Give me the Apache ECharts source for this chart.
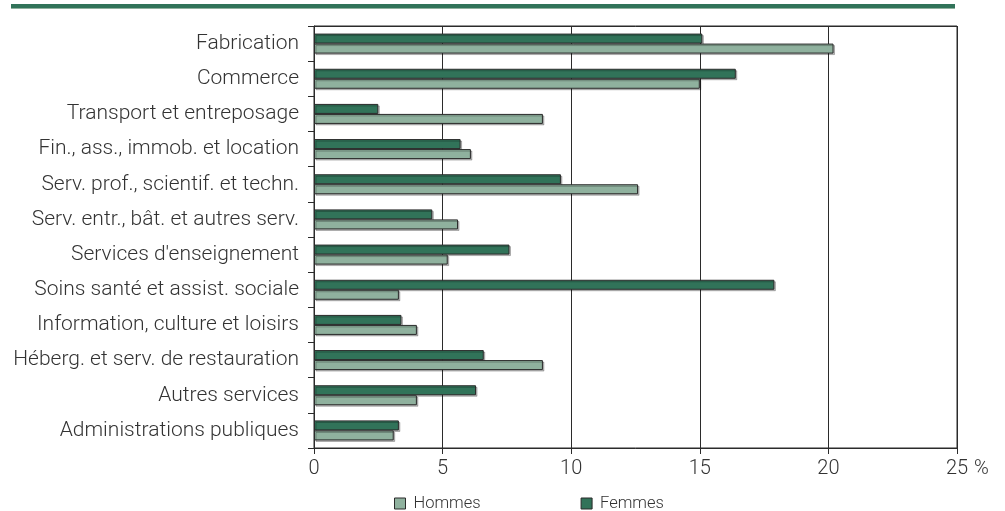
<!DOCTYPE html>
<html>
<head>
<meta charset="utf-8">
<script src="https://cdn.jsdelivr.net/npm/echarts@6/dist/echarts.min.js"></script>
<style>
  html, body { margin: 0; padding: 0; background: #fff; }
  #chart { width: 1005px; height: 511px; }
</style>
</head>
<body>
<div id="chart"></div>
<script>
// Industry groups, top to bottom
const categories = [
  'Fabrication',
  'Commerce',
  'Transport et entreposage',
  'Fin., ass., immob. et location',
  'Serv. prof., scientif. et techn.',
  'Serv. entr., bât. et autres serv.',
  "Services d'enseignement",
  'Soins santé et assist. sociale',
  'Information, culture et loisirs',
  'Héberg. et serv. de restauration',
  'Autres services',
  'Administrations publiques'
];

// Share of employment, in percent
const femmes = [15.1, 16.4, 2.5, 5.7, 9.6, 4.6, 7.6, 17.9, 3.4, 6.6, 6.3, 3.3];
const hommes = [20.2, 15.0, 8.9, 6.1, 12.6, 5.6, 5.2, 3.3, 4.0, 8.9, 4.0, 3.1];

const xTicks = [0, 5, 10, 15, 20, 25];

const FONT = 'Roboto, "Liberation Sans", sans-serif';
const DARK = '#317359';
const LIGHT = '#8fb19e';
const INK = '#2b2b2b';
const TEXT = '#333333';

const chart = echarts.init(document.getElementById('chart'), null, { renderer: 'canvas' });

const barStyle = (color) => ({
  color: color,
  borderColor: '#2a2a2a',
  borderWidth: 1,
  shadowColor: 'rgba(0,0,0,0.25)',
  shadowOffsetX: 1.5,
  shadowOffsetY: 1.5,
  shadowBlur: 0
});

chart.setOption({
  animation: false,
  textStyle: { fontFamily: FONT },
  graphic: [{
    type: 'group',
    left: 11,
    top: 4,
    children: [
      { type: 'rect', shape: { x: 0, y: 0, width: 944, height: 5 }, style: { fill: '#8fb19e' } },
      { type: 'rect', shape: { x: 0, y: 0, width: 944, height: 4 }, style: { fill: DARK } }
    ]
  }],
  grid: {
    left: 314, right: 48, top: 26, bottom: 63,
    show: true, borderColor: INK, borderWidth: 1,
    containLabel: false
  },
  legend: {
    data: ['Hommes', 'Femmes'],
    left: 389,
    top: 490,
    icon: 'rect',
    itemWidth: 11,
    itemHeight: 11,
    itemGap: 100,
    textStyle: { fontFamily: FONT, fontSize: 16.5, fontWeight: 300, color: TEXT, padding: [0, 0, 0, 3] },
    itemStyle: { borderColor: '#2a2a2a', borderWidth: 1 }
  },
  xAxis: [{
    type: 'value',
    min: 0, max: 25, interval: 5,
    name: '%',
    nameLocation: 'end',
    nameGap: 8,
    nameTextStyle: { fontFamily: FONT, fontSize: 20, fontWeight: 300, color: TEXT, verticalAlign: 'top', padding: [11, 0, 0, 0] },
    axisLine: { show: true, lineStyle: { color: INK, width: 1 } },
    axisTick: { show: true, length: 6, lineStyle: { color: INK } },
    axisLabel: {
      margin: 11,
      fontFamily: FONT, fontSize: 20, fontWeight: 300, color: TEXT,
      formatter: (v) => xTicks.includes(v) ? String(v) : ''
    },
    splitLine: { show: true, lineStyle: { color: INK, width: 1 } }
  }, {
    // plain frame line along the top of the plot
    type: 'value',
    position: 'top',
    min: 0, max: 25, interval: 5,
    axisLine: { show: true, lineStyle: { color: INK, width: 1 } },
    axisTick: { show: false },
    axisLabel: { show: false },
    splitLine: { show: false }
  }],
  yAxis: {
    type: 'category',
    data: categories,
    inverse: true,
    axisLine: { show: true, lineStyle: { color: INK, width: 1 } },
    axisTick: { show: true, length: 6, inside: false, lineStyle: { color: INK } },
    axisLabel: {
      margin: 15,
      padding: [3, 0, 0, 0],
      fontFamily: FONT, fontSize: 21, fontWeight: 300, color: TEXT
    },
    splitLine: { show: false }
  },
  series: [
    {
      name: 'Femmes',
      type: 'bar',
      data: femmes,
      barWidth: 10,
      barGap: '0%',
      itemStyle: barStyle(DARK)
    },
    {
      name: 'Hommes',
      type: 'bar',
      data: hommes,
      barWidth: 10,
      barGap: '0%',
      itemStyle: barStyle(LIGHT)
    }
  ]
});
</script>
</body>
</html>
